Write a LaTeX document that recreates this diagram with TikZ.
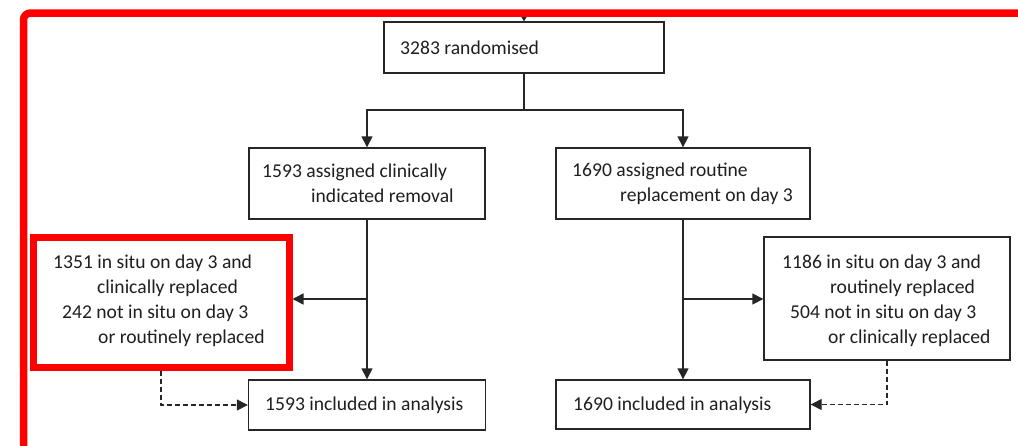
\documentclass[tikz,border=0pt]{standalone}
\usepackage{fontspec}
\setmainfont{Carlito}
\usetikzlibrary{arrows.meta}
\tikzset{
  box/.style={draw=black!85, line width=1.4pt, rectangle, inner sep=0pt},
  redbox/.style={draw=red, line width=7pt, rectangle, inner sep=0pt, fill=white},
  txt/.style={anchor=west, inner sep=0pt, align=left, text=black!88, font=\fontsize{19.6}{25}\selectfont},
  arr/.style={line width=1.5pt, draw=black!85, -{Triangle[length=11pt,width=11pt]}},
  smallarr/.style={line width=1.2pt, draw=black!85, -{Triangle[length=6pt,width=7pt]}},
  darr/.style={line width=1.4pt, draw=black!85, dash pattern=on 5pt off 3pt, -{Triangle[length=11pt,width=11pt]}},
}
\begin{document}
\begin{tikzpicture}[x=1pt,y=-1pt]
\useasboundingbox (0,0) rectangle (1018,445);
\clip (0,0) rectangle (1018,445);
\fill[white] (0,0) rectangle (1018,445);
% boxes
\node[box, minimum width=280pt, minimum height=51pt] (rand) at (524,47.5) {};
\node[box, minimum width=236pt, minimum height=71pt] (A) at (367,183.5) {};
\node[box, minimum width=254pt, minimum height=71pt] (B) at (683,183.5) {};
\node[redbox, minimum width=256pt, minimum height=130pt] (L) at (161,302) {};
\node[box, minimum width=246pt, minimum height=123pt] (R) at (887,298.5) {};
\node[box, minimum width=237pt, minimum height=50pt] (LA) at (367,405) {};
\node[box, minimum width=254pt, minimum height=49pt] (RA) at (683,404.5) {};
% texts
\node[txt] (trand) at (400,47.5) {3283 randomised};
\node[txt] (tA) at (262,183.5) {1593 assigned clinically\\\hspace*{49pt}indicated removal};
\node[txt] (tB) at (572,183.5) {1690 assigned routine\\\hspace*{48pt}replacement on day 3};
\node[txt] (tL) at (53,300.5) {1351 in situ on day 3 and\\\hspace*{44pt}clinically replaced\\\hspace*{9pt}242 not in situ on day 3\\\hspace*{45pt}or routinely replaced};
\node[txt] (tR) at (782,300.5) {1186 in situ on day 3 and\\\hspace*{48pt}routinely replaced\\\hspace*{8pt}504 not in situ on day 3\\\hspace*{46pt}or clinically replaced};
\node[txt] (tLA) at (265,405) {1593 included in analysis};
\node[txt] (tRA) at (573,405) {1690 included in analysis};
% connectors
\coordinate (top) at (524,13);
\draw[smallarr] (top) -- (rand.north);
\coordinate (split) at (524,110);
\draw[line width=1.5pt, draw=black!85] (rand.south) -- (split);
\draw[arr] (split) -| (A.north);
\draw[arr] (split) -| (B.north);
\draw[arr] (A.south) -- (LA.north);
\draw[arr] (B.south) -- (RA.north);
\coordinate (lsplit) at (367,299);
\coordinate (rsplit) at (683,299);
\draw[arr] (lsplit) -- (L.east |- lsplit);
\draw[arr] (rsplit) -- (R.west |- rsplit);
\draw[darr] (L.south) |- (LA.west);
\draw[darr] (R.south) |- (RA.east);
% red frame
\draw[red, line width=7.5pt, rounded corners=7pt] (23.5,470) -- (23.5,13) -- (1040,13);
\end{tikzpicture}
\end{document}
